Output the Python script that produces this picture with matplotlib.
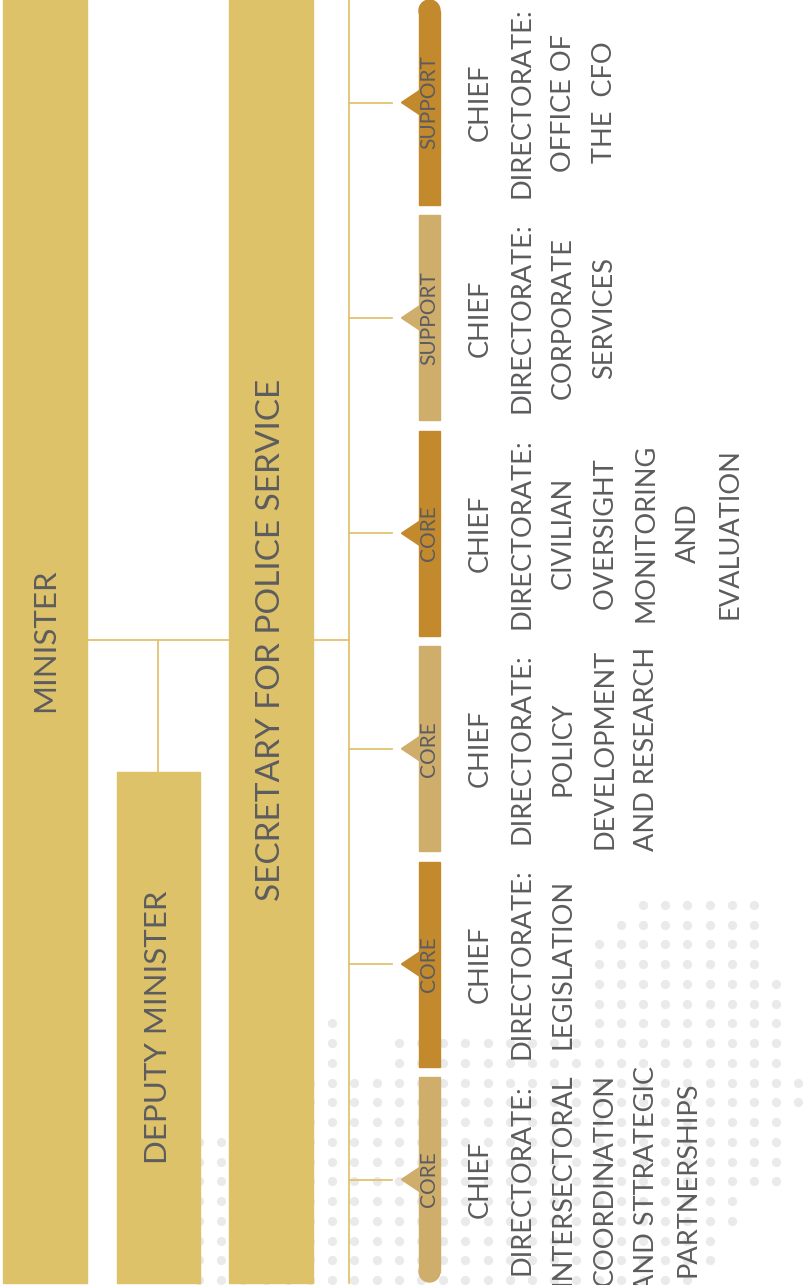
import numpy as np
import matplotlib.pyplot as plt
from matplotlib.patches import Rectangle, Circle, Polygon
from matplotlib.path import Path

plt.rcParams['font.family'] = ['Lato', 'DejaVu Sans']

# Top level offices
top_units = ['MINISTER', 'DEPUTY MINISTER', 'SECRETARY FOR POLICE SERVICE']

# Chief directorates, from top of the page to the bottom
branch_types = ['SUPPORT', 'SUPPORT', 'CORE', 'CORE', 'CORE', 'CORE']
branch_lines = [
    ['CHIEF', 'DIRECTORATE:', 'OFFICE OF', 'THE  CFO'],
    ['CHIEF', 'DIRECTORATE:', 'CORPORATE', 'SERVICES'],
    ['CHIEF', 'DIRECTORATE:', 'CIVILIAN', 'OVERSIGHT', 'MONITORING', 'AND', 'EVALUATION'],
    ['CHIEF', 'DIRECTORATE:', 'POLICY', 'DEVELOPMENT', 'AND RESEARCH'],
    ['CHIEF', 'DIRECTORATE:', 'LEGISLATION'],
    ['CHIEF', 'DIRECTORATE:', 'INTERSECTORAL', 'COORDINATION', 'AND STTRATEGIC', 'PARTNERSHIPS'],
]

W, H = 806, 1285
bar_c = '#DDC26A'
line_c = '#E2C46E'
dark_tab = '#C3892D'
light_tab = '#CFAE6C'
text_c = '#5C5C5E'
dot_c = '#EAEAEA'
fw = 'normal'

fig = plt.figure(figsize=(W / 100, H / 100), dpi=100)
ax = fig.add_axes([0, 0, 1, 1])
ax.set_xlim(0, W)
ax.set_ylim(H, 0)
ax.axis('off')

# background halftone dots (decoration)
mask = Path([(632, 895), (765, 895), (765, 975), (788, 975), (788, 1075), (810, 1075),
             (810, 1110), (788, 1112), (788, 1192), (744, 1192), (744, 1232), (721, 1232),
             (721, 1270), (699, 1270), (699, 1290), (190, 1290), (190, 1132), (300, 1132),
             (300, 1075), (322, 1075), (322, 1013), (343, 1013), (343, 1073), (388, 1073),
             (388, 1033), (588, 1033), (588, 935), (610, 935), (610, 915), (632, 915)])
gx, gy = np.meshgrid(199 + 22.2 * np.arange(28), 1280 - 19.75 * np.arange(20))
pts = np.column_stack([gx.ravel(), gy.ravel()])
pts = pts[mask.contains_points(pts)]
ax.scatter(pts[:, 0], pts[:, 1], s=44, color=dot_c, linewidths=0, zorder=1)

# top level boxes
bottom = 1283
ax.add_patch(Rectangle((3, 0), 84, bottom, color=bar_c, zorder=3))
ax.add_patch(Rectangle((117, 772), 83, bottom - 772, color=bar_c, zorder=3))
ax.add_patch(Rectangle((229, 0), 84, bottom, color=bar_c, zorder=3))
ax.text(45, 640, top_units[0], rotation=90, ha='center', va='center',
        fontsize=22.5, color=text_c, fontweight=fw, zorder=5)
ax.text(158, 1027, top_units[1], rotation=90, ha='center', va='center',
        fontsize=22.5, color=text_c, fontweight=fw, zorder=5)
ax.text(271, 640, top_units[2], rotation=90, ha='center', va='center',
        fontsize=24, color=text_c, fontweight=fw, zorder=5)

# connectors
lw = 1.3
ax.plot([87, 229], [640, 640], color=line_c, lw=lw, zorder=2)
ax.plot([313, 349], [640, 640], color=line_c, lw=lw, zorder=2)
ax.plot([158, 158], [640, 772], color=line_c, lw=lw, zorder=2)
ax.plot([349, 349], [0, bottom], color=line_c, lw=lw, zorder=2)

# chief directorate tabs
pitch, tab_len = 215.4, 205
tx0, tw = 419, 21
r = tw / 2
n = len(branch_types)
for i, (kind, lines) in enumerate(zip(branch_types, branch_lines)):
    y0 = i * pitch
    y1 = y0 + tab_len
    yc = (y0 + y1) / 2
    c = dark_tab if i % 2 == 0 else light_tab
    ry0 = y0 + r if i == 0 else y0
    ry1 = y1 - r if i == n - 1 else y1
    ax.add_patch(Rectangle((tx0, ry0), tw, ry1 - ry0, color=c, zorder=3))
    if i == 0:
        ax.add_patch(Circle((tx0 + r, ry0), r, color=c, zorder=3))
    if i == n - 1:
        ax.add_patch(Circle((tx0 + r, ry1), r, color=c, zorder=3))
    ax.add_patch(Polygon([(tx0 + 1, yc - 12), (402, yc), (tx0 + 1, yc + 12)],
                         closed=True, facecolor=c, edgecolor=c, lw=1.5,
                         joinstyle='round', zorder=3))
    ax.plot([349, 392], [yc, yc], color=line_c, lw=lw, zorder=2)
    ax.text(tx0 + r, yc, kind, rotation=90, ha='center', va='center',
            fontsize=15, color=text_c, fontweight=fw, zorder=5)
    for k, s in enumerate(lines):
        ax.text(480 + 41.6 * k, yc, s, rotation=90, ha='center', va='center',
                fontsize=19.5, color=text_c, fontweight=fw, zorder=5)

fig.savefig('out.png', dpi=100)
